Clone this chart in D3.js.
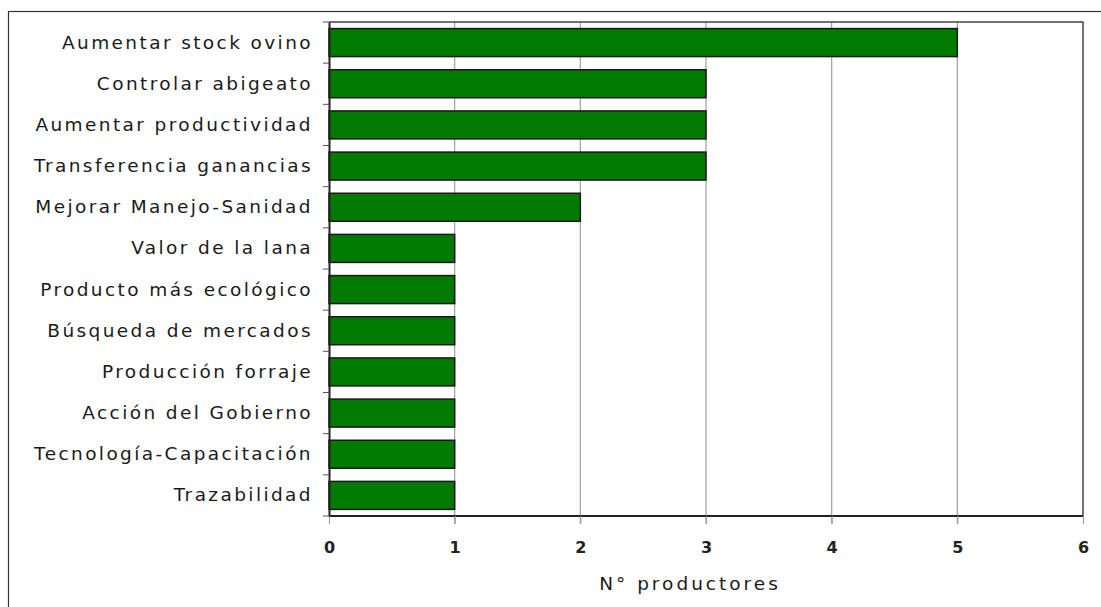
<!DOCTYPE html>
<html><head><meta charset="utf-8">
<script src="https://cdn.jsdelivr.net/npm/d3@7"></script>
<style>body{margin:0;background:#fff;}svg{display:block;}</style>
</head><body>
<svg id="c" width="1101" height="607"></svg>
<script>
const categories = ["Aumentar stock ovino","Controlar abigeato","Aumentar productividad","Transferencia ganancias ","Mejorar Manejo-Sanidad","Valor de la lana","Producto más ecológico","Búsqueda de mercados","Producción forraje","Acción del Gobierno","Tecnología-Capacitación","Trazabilidad"];
const values = [5,3,3,3,2,1,1,1,1,1,1,1];
const xTicks = [0,1,2,3,4,5,6];
const xTitle = "N° productores";

const svg = d3.select("#c");
const m = {left:329, right:1083, top:22, bottom:516};
const font = "'DejaVu Sans', 'Liberation Sans', Arial, sans-serif";

svg.append("rect").attr("x",8.5).attr("y",11.5).attr("width",1200).attr("height",700)
  .attr("fill","none").attr("stroke","#333").attr("stroke-width",1.2);

const x = d3.scaleLinear().domain([0,6]).range([m.left,m.right]);
const y = d3.scaleBand().domain(categories).range([m.top,m.bottom]).paddingInner(0.32).paddingOuter(0.16);

// gridlines
svg.append("g").selectAll("line").data(xTicks.slice(1,-1)).join("line")
  .attr("x1",d=>x(d)).attr("x2",d=>x(d)).attr("y1",m.top).attr("y2",m.bottom+8)
  .attr("stroke","#a0a0a0").attr("stroke-width",1.2);

// plot border top/right
svg.append("path").attr("d",`M${m.left},${m.top}H${m.right}V${m.bottom}`)
  .attr("fill","none").attr("stroke","#444").attr("stroke-width",1.5);

// bars
svg.append("g").selectAll("rect").data(values).join("rect")
  .attr("x",x(0)).attr("y",(d,i)=>y(categories[i]))
  .attr("width",d=>x(d)-x(0)).attr("height",y.bandwidth())
  .attr("fill","#007a00").attr("stroke","#1a1a1a").attr("stroke-width",1.5);

// x axis
const xa = svg.append("g").attr("transform",`translate(0,${m.bottom})`)
  .call(d3.axisBottom(x).tickValues(xTicks).tickSize(8).tickPadding(18).tickFormat(d3.format("d")));
xa.select(".domain").attr("stroke","#222").attr("stroke-width",2).attr("d",`M${m.left},0H${m.right}`);
xa.selectAll(".tick line").attr("stroke","#a0a0a0").attr("stroke-width",1.2);
xa.selectAll(".tick text").attr("font-family",font).attr("font-size",16).attr("fill","#222")
  .attr("font-weight","bold");

// y axis
const ya = svg.append("g").attr("transform",`translate(${m.left},0)`)
  .call(d3.axisLeft(y).tickSize(0).tickPadding(16));
ya.select(".domain").attr("stroke","#222").attr("stroke-width",2);
ya.selectAll(".tick text").attr("font-family",font).attr("font-size",18.5).attr("fill","#1a1a1a")
  .attr("letter-spacing","2.4px");
// boundary ticks
const bounds = categories.map(c=>y(c)-y.step()*y.paddingInner()/2).concat([m.bottom]);
svg.append("g").selectAll("line").data(bounds).join("line")
  .attr("x1",m.left-6).attr("x2",m.left).attr("y1",d=>d).attr("y2",d=>d)
  .attr("stroke","#555").attr("stroke-width",1);

svg.append("text").attr("x",690).attr("y",590).attr("text-anchor","middle")
  .attr("font-family",font).attr("font-size",18.5).attr("fill","#1a1a1a").attr("letter-spacing","3px")
  .text(xTitle);
</script>
</body></html>
